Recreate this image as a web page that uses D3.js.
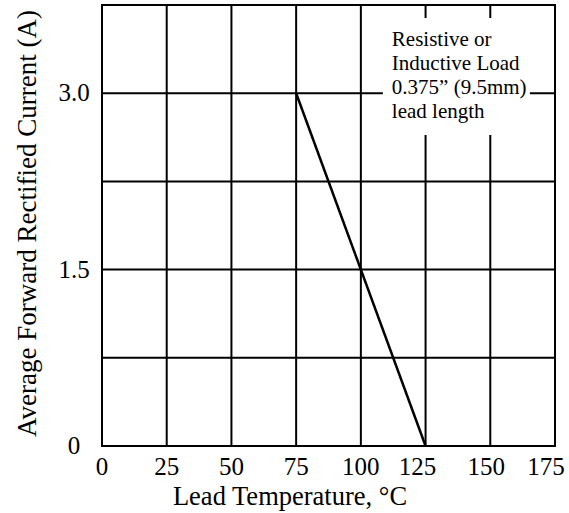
<!DOCTYPE html>
<html>
<head>
<meta charset="utf-8">
<script src="https://cdn.jsdelivr.net/npm/d3@7"></script>
<style>
  html, body { margin: 0; padding: 0; background: #fff; }
</style>
</head>
<body>
<div id="chart"></div>
<script>
// Datos de la curva de derating
const leadTemp = [75, 125];
const avgCurrent = [3.0, 0];

// Ticks y etiquetas
const xTicks = [0, 25, 50, 75, 100, 125, 150, 175];
const yGrid = [0, 0.75, 1.5, 2.25, 3.0, 3.75];
const yLabels = [0, 1.5, 3.0];
const legendLines = ["Resistive or", "Inductive Load", "0.375\u201D (9.5mm)", "lead length"];

const config = {
    width: 569,
    height: 513,
    margin: { top: 5, right: 14, bottom: 67, left: 102 },
    font: "Liberation Serif",
    // pequeño desplazamiento de algunas etiquetas del eje x, como en el original
    xLabelShift: { 125: -8, 150: -4, 175: -9 }
};

const w = config.width - config.margin.left - config.margin.right;
const h = config.height - config.margin.top - config.margin.bottom;

const svg = d3.select("#chart").append("svg")
    .attr("width", config.width)
    .attr("height", config.height);

const g = svg.append("g")
    .attr("transform", `translate(${config.margin.left},${config.margin.top})`);

const x = d3.scaleLinear().domain([0, 175]).range([0, w]);
const y = d3.scaleLinear().domain([0, 3.75]).range([h, 0]);

// Texto con la fuente serif
function label(sel, size) {
    return sel.attr("font-family", `'${config.font}'`)
        .style("font-size", size + "px")
        .attr("fill", "#000");
}

// Rejilla
g.selectAll(".vgrid").data(xTicks).enter().append("line")
    .attr("x1", d => x(d)).attr("x2", d => x(d))
    .attr("y1", 0).attr("y2", h)
    .attr("stroke", "#000").attr("stroke-width", 2);

g.selectAll(".hgrid").data(yGrid).enter().append("line")
    .attr("x1", 0).attr("x2", w)
    .attr("y1", d => y(d)).attr("y2", d => y(d))
    .attr("stroke", "#000").attr("stroke-width", 2);

// Caja blanca de la leyenda (tapa la rejilla)
const box = { x0: x(108.5), x1: x(165.3), y0: 13, y1: 130 };
g.append("rect")
    .attr("x", box.x0).attr("y", box.y0)
    .attr("width", box.x1 - box.x0).attr("height", box.y1 - box.y0)
    .attr("fill", "#fff");

label(g.append("g").selectAll("text").data(legendLines).enter().append("text")
    .attr("x", box.x0 + 9)
    .attr("y", (_, i) => 41 + i * 24), 21)
    .text(d => d);

// Marco
g.append("rect")
    .attr("x", 0).attr("y", 0).attr("width", w).attr("height", h)
    .attr("fill", "none").attr("stroke", "#000").attr("stroke-width", 2);

// Curva
const pts = leadTemp.map((t, i) => [t, avgCurrent[i]]);
g.append("path")
    .attr("d", d3.line().x(d => x(d[0])).y(d => y(d[1]))(pts))
    .attr("fill", "none").attr("stroke", "#000").attr("stroke-width", 2.5);

// Etiquetas de ejes
label(g.selectAll(".xlab").data(xTicks).enter().append("text")
    .attr("x", d => x(d) + (config.xLabelShift[d] || 0))
    .attr("y", h + 29)
    .attr("text-anchor", "middle"), 25)
    .text(d => d);

label(g.selectAll(".ylab").data(yLabels).enter().append("text")
    .attr("x", -28)
    .attr("y", d => y(d))
    .attr("dy", "0.33em")
    .attr("text-anchor", "middle"), 25)
    .text(d => d === 0 ? "0" : d.toFixed(1));

label(svg.append("text")
    .attr("x", 290).attr("y", 505)
    .attr("text-anchor", "middle"), 26.5)
    .text("Lead Temperature, \u00B0C");

label(svg.append("text")
    .attr("transform", `translate(36,${config.margin.top + h / 2 - 2}) rotate(-90)`)
    .attr("text-anchor", "middle"), 27)
    .text("Average Forward Rectified Current (A)");
</script>
</body>
</html>
